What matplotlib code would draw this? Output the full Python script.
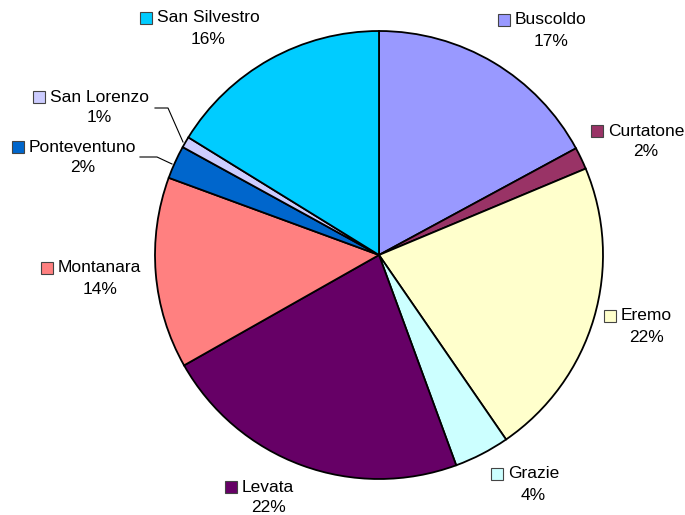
import matplotlib.pyplot as plt
from matplotlib.patches import Rectangle

# slices, clockwise from 12 o'clock
zones = ["Buscoldo", "Curtatone", "Eremo", "Grazie", "Levata",
         "Montanara", "Ponteventuno", "San Lorenzo", "San Silvestro"]
shares = [17.1, 1.6, 21.7, 4.0, 22.4, 13.8, 2.4, 0.8, 16.2]
pct_text = ["17%", "2%", "22%", "4%", "22%", "14%", "2%", "1%", "16%"]

colors = ["#9999FF", "#993366", "#FFFFCC", "#CCFFFF", "#660066",
          "#FF8080", "#0066CC", "#CCCCFF", "#00CCFF"]

# label anchors in pixels from top-left: (left x of name, centre y of name)
label_pos = [(515, 20), (608, 131), (621, 316), (508, 474), (242, 487),
             (58, 268), (29, 147), (50, 97), (157, 18)]

# leader lines (pixels) for the two thin slices on the left
leaders = {
    "San Lorenzo": [(155, 108), (168, 108), (183, 142)],
    "Ponteventuno": [(140, 157), (157, 157), (172, 164)],
}

W, H = 685, 515
plt.rcParams["font.family"] = ["Liberation Sans", "DejaVu Sans"]

fig = plt.figure(figsize=(W / 100, H / 100), dpi=100)
ax = fig.add_axes([0, 0, 1, 1])

cx, cy, r = 379, 255, 224
ax.pie(shares, colors=colors, startangle=90, counterclock=False,
       center=(cx, H - cy), radius=r, frame=True,
       wedgeprops=dict(edgecolor="black", linewidth=1.3))
ax.set_xlim(0, W)
ax.set_ylim(0, H)
ax.set_aspect("equal")
ax.axis("off")

fs = 12.5
renderer = fig.canvas.get_renderer()
for name, pct, col, (lx, ly) in zip(zones, pct_text, colors, label_pos):
    t = ax.text(lx, H - ly, name, fontsize=fs, ha="left", va="center")
    bb = t.get_window_extent(renderer=renderer)
    mid = (bb.x0 + bb.x1) / 2
    ax.text(mid, H - ly - 21, pct, fontsize=fs, ha="center", va="center")
    ax.add_patch(Rectangle((lx - 17, H - ly - 6), 12, 12, facecolor=col,
                           edgecolor="#444444", linewidth=0.8))

for pts in leaders.values():
    ax.plot([p[0] for p in pts], [H - p[1] for p in pts],
            color="black", linewidth=0.8)

fig.savefig("out.png", dpi=100)
